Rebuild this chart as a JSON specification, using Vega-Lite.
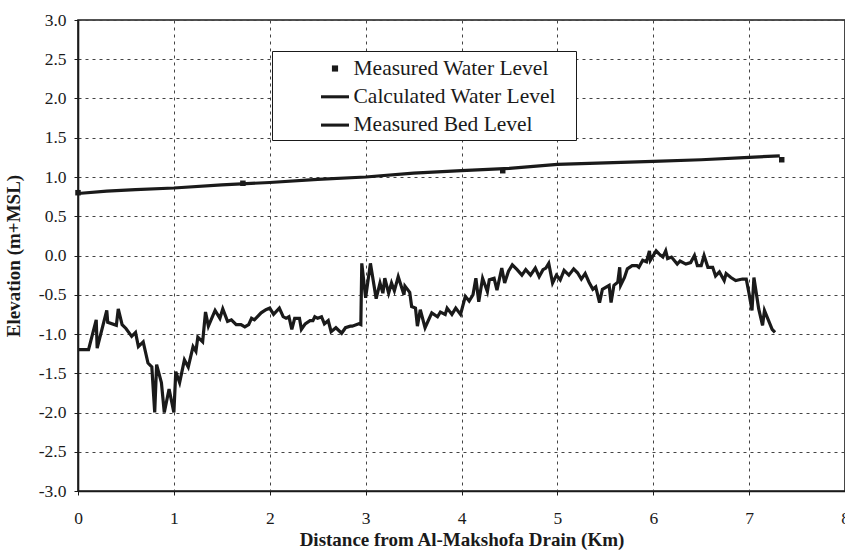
{
  "$schema": "https://vega.github.io/schema/vega-lite/v6.json",
  "width": 767,
  "height": 471,
  "autosize": "none",
  "padding": {"left": 78, "top": 20, "right": 0, "bottom": 60},
  "background": "white",
  "config": {
    "font": "Liberation Serif",
    "view": {"stroke": "#1a1a1a", "strokeWidth": 1.6},
    "locale": {"number": {"decimal": ".", "thousands": ",", "grouping": [3], "currency": ["$", ""], "minus": "-"}},
    "axis": {
      "labelFont": "Liberation Serif",
      "titleFont": "Liberation Serif",
      "labelColor": "#1a1a1a",
      "titleColor": "#1a1a1a",
      "domainColor": "#1a1a1a",
      "domainWidth": 1.6,
      "tickColor": "#1a1a1a",
      "tickSize": 4,
      "gridColor": "#444444",
      "gridDash": [3, 4],
      "gridWidth": 1,
      "labelOverlap": false,
      "labelFlush": false
    }
  },
  "datasets": {
    "bed": [
      {"distance": 0, "elevation": -1.2},
      {"distance": 0.11, "elevation": -1.2},
      {"distance": 0.19, "elevation": -0.82},
      {"distance": 0.2, "elevation": -1.18},
      {"distance": 0.3, "elevation": -0.7},
      {"distance": 0.31, "elevation": -0.85},
      {"distance": 0.4, "elevation": -0.89},
      {"distance": 0.42, "elevation": -0.68},
      {"distance": 0.46, "elevation": -0.88},
      {"distance": 0.5, "elevation": -0.93},
      {"distance": 0.56, "elevation": -1.03},
      {"distance": 0.6, "elevation": -0.98},
      {"distance": 0.63, "elevation": -1.16},
      {"distance": 0.68, "elevation": -1.1},
      {"distance": 0.73, "elevation": -1.37},
      {"distance": 0.77, "elevation": -1.42},
      {"distance": 0.8, "elevation": -2.0},
      {"distance": 0.82, "elevation": -1.39},
      {"distance": 0.87, "elevation": -1.62},
      {"distance": 0.9, "elevation": -2.0},
      {"distance": 0.95, "elevation": -1.7},
      {"distance": 1.0, "elevation": -2.0},
      {"distance": 1.02, "elevation": -1.48},
      {"distance": 1.06, "elevation": -1.62},
      {"distance": 1.11, "elevation": -1.33},
      {"distance": 1.15, "elevation": -1.42},
      {"distance": 1.2, "elevation": -1.16},
      {"distance": 1.23, "elevation": -1.22},
      {"distance": 1.25, "elevation": -1.04},
      {"distance": 1.3, "elevation": -1.1},
      {"distance": 1.33, "elevation": -0.72},
      {"distance": 1.36, "elevation": -0.9},
      {"distance": 1.43, "elevation": -0.7},
      {"distance": 1.48, "elevation": -0.8},
      {"distance": 1.51, "elevation": -0.68},
      {"distance": 1.56, "elevation": -0.84},
      {"distance": 1.6, "elevation": -0.82},
      {"distance": 1.65, "elevation": -0.88},
      {"distance": 1.7, "elevation": -0.88},
      {"distance": 1.74, "elevation": -0.91},
      {"distance": 1.78, "elevation": -0.88},
      {"distance": 1.81, "elevation": -0.8},
      {"distance": 1.84, "elevation": -0.82},
      {"distance": 1.91, "elevation": -0.73},
      {"distance": 1.96, "elevation": -0.69},
      {"distance": 2.0, "elevation": -0.67},
      {"distance": 2.04, "elevation": -0.75},
      {"distance": 2.1, "elevation": -0.67},
      {"distance": 2.14, "elevation": -0.78},
      {"distance": 2.17, "elevation": -0.8},
      {"distance": 2.2, "elevation": -0.78},
      {"distance": 2.23, "elevation": -0.94},
      {"distance": 2.26, "elevation": -0.8},
      {"distance": 2.31, "elevation": -0.8},
      {"distance": 2.33, "elevation": -0.94},
      {"distance": 2.37, "elevation": -0.87},
      {"distance": 2.42, "elevation": -0.83},
      {"distance": 2.45, "elevation": -0.83},
      {"distance": 2.47, "elevation": -0.78},
      {"distance": 2.5, "elevation": -0.8},
      {"distance": 2.54, "elevation": -0.78},
      {"distance": 2.57, "elevation": -0.87},
      {"distance": 2.61, "elevation": -0.83},
      {"distance": 2.64, "elevation": -0.97},
      {"distance": 2.69, "elevation": -0.92},
      {"distance": 2.75, "elevation": -0.99},
      {"distance": 2.79, "elevation": -0.92},
      {"distance": 2.84, "elevation": -0.9},
      {"distance": 2.86, "elevation": -0.9},
      {"distance": 2.93, "elevation": -0.87},
      {"distance": 2.95, "elevation": -0.88},
      {"distance": 2.96, "elevation": -0.1},
      {"distance": 3.0, "elevation": -0.54},
      {"distance": 3.05, "elevation": -0.1},
      {"distance": 3.11, "elevation": -0.55},
      {"distance": 3.15, "elevation": -0.35},
      {"distance": 3.18, "elevation": -0.48},
      {"distance": 3.2, "elevation": -0.29},
      {"distance": 3.24, "elevation": -0.48},
      {"distance": 3.27, "elevation": -0.35},
      {"distance": 3.3, "elevation": -0.45},
      {"distance": 3.34, "elevation": -0.27},
      {"distance": 3.4, "elevation": -0.5},
      {"distance": 3.41, "elevation": -0.39},
      {"distance": 3.46, "elevation": -0.47},
      {"distance": 3.48, "elevation": -0.65},
      {"distance": 3.52, "elevation": -0.67},
      {"distance": 3.54, "elevation": -0.9},
      {"distance": 3.57, "elevation": -0.69},
      {"distance": 3.62, "elevation": -0.92},
      {"distance": 3.69, "elevation": -0.73},
      {"distance": 3.75, "elevation": -0.78},
      {"distance": 3.78, "elevation": -0.72},
      {"distance": 3.83, "elevation": -0.75},
      {"distance": 3.85, "elevation": -0.67},
      {"distance": 3.9, "elevation": -0.75},
      {"distance": 3.94, "elevation": -0.67},
      {"distance": 3.99, "elevation": -0.75},
      {"distance": 4.04, "elevation": -0.52},
      {"distance": 4.08, "elevation": -0.58},
      {"distance": 4.12, "elevation": -0.5},
      {"distance": 4.15, "elevation": -0.29},
      {"distance": 4.18, "elevation": -0.59},
      {"distance": 4.22, "elevation": -0.29},
      {"distance": 4.27, "elevation": -0.46},
      {"distance": 4.29, "elevation": -0.31},
      {"distance": 4.34, "elevation": -0.29},
      {"distance": 4.37, "elevation": -0.44},
      {"distance": 4.42, "elevation": -0.16},
      {"distance": 4.45, "elevation": -0.35},
      {"distance": 4.49, "elevation": -0.2},
      {"distance": 4.53, "elevation": -0.12},
      {"distance": 4.58, "elevation": -0.18},
      {"distance": 4.63, "elevation": -0.25},
      {"distance": 4.67, "elevation": -0.18},
      {"distance": 4.72, "elevation": -0.25},
      {"distance": 4.77, "elevation": -0.16},
      {"distance": 4.81, "elevation": -0.27},
      {"distance": 4.85, "elevation": -0.18},
      {"distance": 4.88, "elevation": -0.16},
      {"distance": 4.91, "elevation": -0.1},
      {"distance": 4.95, "elevation": -0.35},
      {"distance": 4.99, "elevation": -0.25},
      {"distance": 5.03, "elevation": -0.31},
      {"distance": 5.07, "elevation": -0.19},
      {"distance": 5.12, "elevation": -0.25},
      {"distance": 5.17, "elevation": -0.17},
      {"distance": 5.21, "elevation": -0.22},
      {"distance": 5.25, "elevation": -0.3},
      {"distance": 5.29, "elevation": -0.23},
      {"distance": 5.33, "elevation": -0.34},
      {"distance": 5.37, "elevation": -0.43},
      {"distance": 5.4, "elevation": -0.4},
      {"distance": 5.44, "elevation": -0.6},
      {"distance": 5.47, "elevation": -0.43},
      {"distance": 5.54, "elevation": -0.38},
      {"distance": 5.56, "elevation": -0.6},
      {"distance": 5.59, "elevation": -0.38},
      {"distance": 5.63, "elevation": -0.34},
      {"distance": 5.65, "elevation": -0.15},
      {"distance": 5.66, "elevation": -0.38},
      {"distance": 5.7, "elevation": -0.28},
      {"distance": 5.73, "elevation": -0.17},
      {"distance": 5.78, "elevation": -0.13},
      {"distance": 5.83, "elevation": -0.13},
      {"distance": 5.85, "elevation": -0.15},
      {"distance": 5.89, "elevation": -0.06},
      {"distance": 5.93, "elevation": -0.08},
      {"distance": 5.96, "elevation": 0.06},
      {"distance": 5.97, "elevation": -0.06},
      {"distance": 6.03, "elevation": 0.06},
      {"distance": 6.06, "elevation": 0.02},
      {"distance": 6.1, "elevation": -0.02},
      {"distance": 6.13, "elevation": 0.06},
      {"distance": 6.15, "elevation": -0.04},
      {"distance": 6.19, "elevation": -0.02},
      {"distance": 6.25, "elevation": -0.11},
      {"distance": 6.28, "elevation": -0.07},
      {"distance": 6.34, "elevation": -0.11},
      {"distance": 6.39, "elevation": -0.09},
      {"distance": 6.43, "elevation": 0.0},
      {"distance": 6.46, "elevation": -0.13},
      {"distance": 6.5, "elevation": -0.13},
      {"distance": 6.53, "elevation": 0.0},
      {"distance": 6.57, "elevation": -0.15},
      {"distance": 6.62, "elevation": -0.15},
      {"distance": 6.65, "elevation": -0.26},
      {"distance": 6.69, "elevation": -0.21},
      {"distance": 6.74, "elevation": -0.32},
      {"distance": 6.76, "elevation": -0.23},
      {"distance": 6.81, "elevation": -0.28},
      {"distance": 6.86, "elevation": -0.32},
      {"distance": 6.93, "elevation": -0.3},
      {"distance": 6.97, "elevation": -0.3},
      {"distance": 7.0, "elevation": -0.49},
      {"distance": 7.03, "elevation": -0.7},
      {"distance": 7.05, "elevation": -0.28},
      {"distance": 7.1, "elevation": -0.68},
      {"distance": 7.14, "elevation": -0.89},
      {"distance": 7.16, "elevation": -0.7},
      {"distance": 7.24, "elevation": -0.94},
      {"distance": 7.27, "elevation": -0.98}
    ],
    "calc": [
      {"distance": 0, "elevation": 0.79},
      {"distance": 0.3, "elevation": 0.82},
      {"distance": 0.6, "elevation": 0.84},
      {"distance": 1.0, "elevation": 0.86},
      {"distance": 1.5, "elevation": 0.9},
      {"distance": 2.0, "elevation": 0.93},
      {"distance": 2.5, "elevation": 0.97},
      {"distance": 3.0, "elevation": 1.0},
      {"distance": 3.5, "elevation": 1.05},
      {"distance": 4.0, "elevation": 1.08},
      {"distance": 4.5, "elevation": 1.11},
      {"distance": 5.0, "elevation": 1.16},
      {"distance": 5.5, "elevation": 1.18},
      {"distance": 6.0, "elevation": 1.2},
      {"distance": 6.5, "elevation": 1.22},
      {"distance": 7.0, "elevation": 1.25},
      {"distance": 7.32, "elevation": 1.27}
    ],
    "meas": [
      {"distance": 0.0, "elevation": 0.8, "series": "Measured Water Level"},
      {"distance": 1.72, "elevation": 0.92, "series": "Measured Water Level"},
      {"distance": 4.43, "elevation": 1.08, "series": "Measured Water Level"},
      {"distance": 7.34, "elevation": 1.22, "series": "Measured Water Level"}
    ]
  },
  "encoding": {
    "x": {
      "field": "distance", "type": "quantitative",
      "scale": {"domain": [0, 8], "nice": false, "zero": false},
      "axis": {
        "values": [0, 1, 2, 3, 4, 5, 6, 7, 8],
        "format": "d",
        "title": "Distance from Al-Makshofa Drain (Km)",
        "titleFontSize": 19,
        "titleFontWeight": "bold",
        "titlePadding": 4,
        "labelFontSize": 17.5,
        "labelPadding": 14
      }
    },
    "y": {
      "field": "elevation", "type": "quantitative",
      "scale": {"domain": [-3, 3], "nice": false, "zero": false},
      "axis": {
        "values": [-3, -2.5, -2, -1.5, -1, -0.5, 0, 0.5, 1, 1.5, 2, 2.5, 3],
        "format": ".1f",
        "title": "Elevation (m+MSL)",
        "titleFontSize": 19,
        "titleFontWeight": "bold",
        "titlePadding": 15,
        "labelFontSize": 17.5,
        "labelPadding": 8
      }
    }
  },
  "layer": [
    {
      "data": {"name": "bed"},
      "mark": {"type": "line", "color": "#1a1a1a", "strokeWidth": 3.2, "strokeJoin": "miter"}
    },
    {
      "data": {"name": "calc"},
      "mark": {"type": "line", "color": "#1a1a1a", "strokeWidth": 3.2}
    },
    {
      "data": {"name": "meas"},
      "mark": {"type": "point", "filled": true, "color": "#1a1a1a", "size": 625, "opacity": 1},
      "encoding": {
        "shape": {
          "field": "series", "type": "nominal",
          "scale": {
            "domain": ["Measured Water Level", "Calculated Water Level", "Measured Bed Level"],
            "range": ["M-0.22,-0.22H0.22V0.22H-0.22Z", "M-1,-0.11H1V0.11H-1Z", "M-1,-0.11H1V0.11H-1Z"]
          },
          "legend": {
            "title": null,
            "orient": "none",
            "legendX": 194,
            "legendY": 31,
            "direction": "vertical",
            "padding": 3.5,
            "fillColor": "white",
            "strokeColor": "#1a1a1a",
            "symbolSize": 784,
            "symbolFillColor": "#1a1a1a",
            "symbolStrokeWidth": 0,
            "symbolOpacity": 1,
            "symbolOffset": 45.5,
            "labelOffset": 4.5,
            "labelFont": "Liberation Serif",
            "labelFontSize": 21.5,
            "labelColor": "#1a1a1a",
            "labelLimit": 400,
            "rowPadding": 3.3,
            "labelExpr": "datum.label + '\u2800'",
            "encode": {"legend": {"update": {"strokeWidth": {"value": 1.5}}}}
          }
        }
      }
    }
  ]
}
